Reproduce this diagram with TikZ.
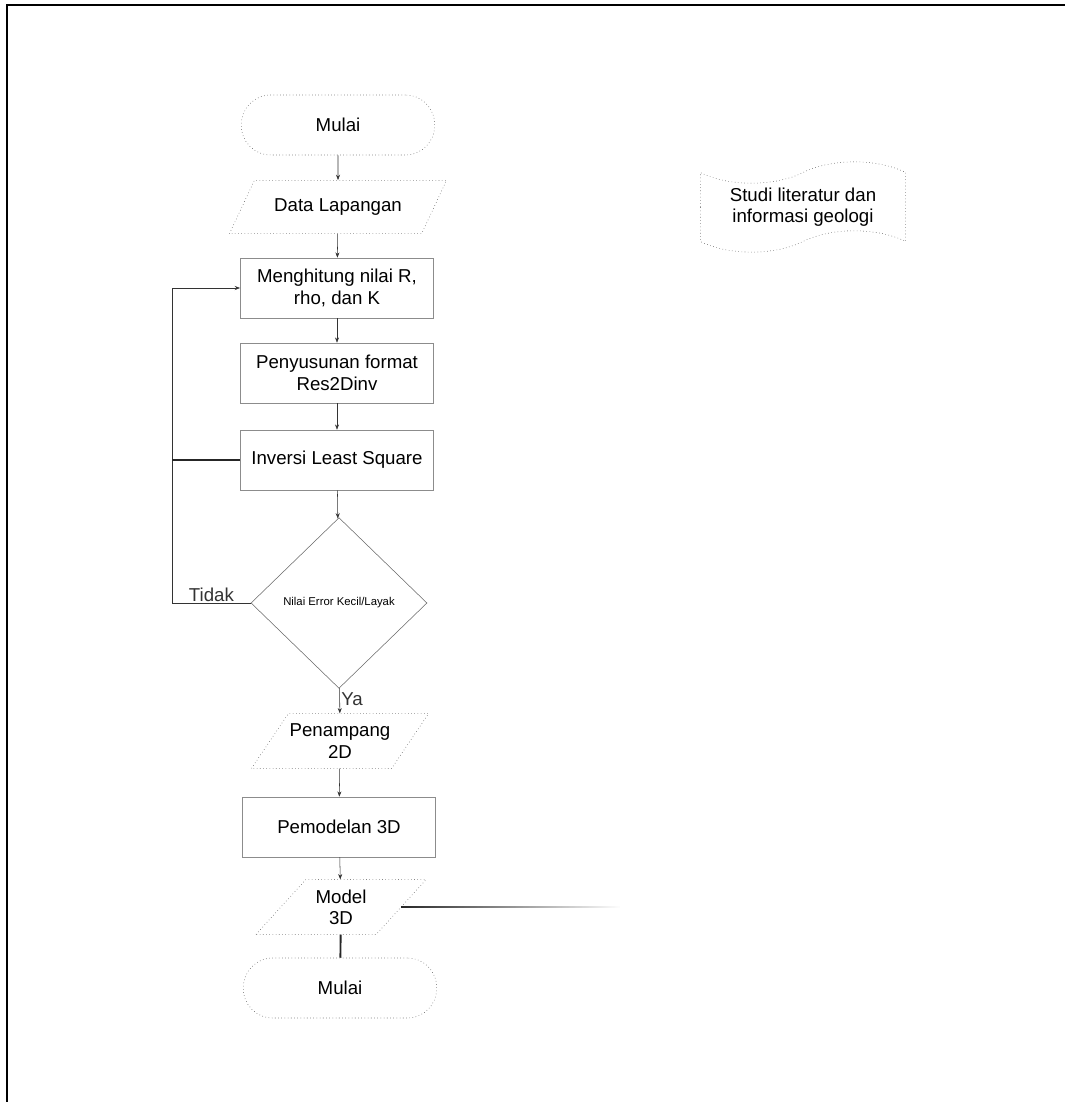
\documentclass[tikz,border=0pt]{standalone}
\usepackage{fontspec}
\setmainfont{Liberation Sans}
\usetikzlibrary{arrows.meta, positioning, shapes.geometric, shapes.symbols, fadings}

\begin{document}
\begin{tikzpicture}[
    x=0.75pt, y=-0.75pt,
    font=\fontsize{14}{16}\selectfont,
    box/.style={draw=black!45, align=center,
                minimum width=145pt, minimum height=45pt, inner sep=3pt},
    term/.style={box, rounded corners=22pt, dotted, draw=black!75},
    io/.style={trapezium, trapezium left angle=45, trapezium right angle=135,
               trapezium stretches=true, draw=black!75, dotted, align=center, inner sep=1pt},
    decide/.style={diamond, draw=black!60, aspect=1, minimum width=132pt, minimum height=128pt,
                   align=center, inner sep=0pt, font=\fontsize{8.5}{9}\selectfont},
    docu/.style={tape, draw=black!75, dotted, align=center, tape bend height=16pt,
                 minimum width=154pt, minimum height=64pt},
    flow/.style={-{Stealth[length=4pt, width=3pt]}, black!80},
    lbl/.style={inner sep=1pt},
]
    \useasboundingbox (0,0) rectangle (1065,1102);
    \draw[line width=2.2pt] (7,1102) -- (7,5) -- (1065,5);

    % --- Main column, placed at explicit coordinates ---
    \node[term] (mulai)     at (338,125) {Mulai};
    \node[io, minimum width=163pt, minimum height=40pt] (data) at (338,207) {Data Lapangan};
    \node[box]  (hitung)    at (337,288) {Menghitung nilai R,\\rho, dan K};
    \node[box]  (format)    at (337,373) {Penyusunan format\\Res2Dinv};
    \node[box]  (inversi)   at (337,460) {Inversi Least Square};
    \node[decide] (cek)     at (339,603) {Nilai Error Kecil/Layak};
    \node[io, minimum width=128pt, minimum height=41pt] (penampang) at (340,741) {Penampang\\2D};
    \node[box]  (pemodelan) at (339,827) {Pemodelan 3D};
    \node[io, minimum width=128pt, minimum height=41pt] (model) at (341,907) {Model\\3D};
    \node[term] (selesai)   at (340,988) {Mulai};

    % --- Side input ---
    \node[docu] (studi)     at (803,207) {Studi literatur dan\\informasi geologi};

    % --- Flow down the column ---
    \draw[flow] (mulai)     -- (data);
    \draw[flow] (data)      -- (hitung);
    \draw[flow] (hitung)    -- (format);
    \draw[flow] (format)    -- (inversi);
    \draw[flow] (inversi)   -- (cek);
    \draw[flow] (cek)       -- node[lbl, pos=0.45, right]{Ya} (penampang);
    \draw[flow] (penampang) -- (pemodelan);
    \draw[flow] (pemodelan) -- (model);
    \draw[line width=1.4pt, black!85] (model) -- (selesai);

    % --- Feedback loop (Tidak) ---
    \coordinate (loopbot) at (172,603);
    \coordinate (looptop) at (172,288);
    \draw[flow] (cek.west) -- node[lbl, above, pos=0.5]{Tidak} (loopbot) -- (looptop) -- (hitung.west);
    \draw[line width=1pt, black!85] (inversi.west) -- (inversi.west -| loopbot);

    % --- Output line to the right (moves give the fading some height) ---
    \coordinate (fadepin) at (620,0);
    \draw[line width=1.5pt, black!85, path fading=east]
        (model.east) ++(0,-4) ++(0,8) (model.east) -- (model.east -| fadepin);
\end{tikzpicture}
\end{document}
